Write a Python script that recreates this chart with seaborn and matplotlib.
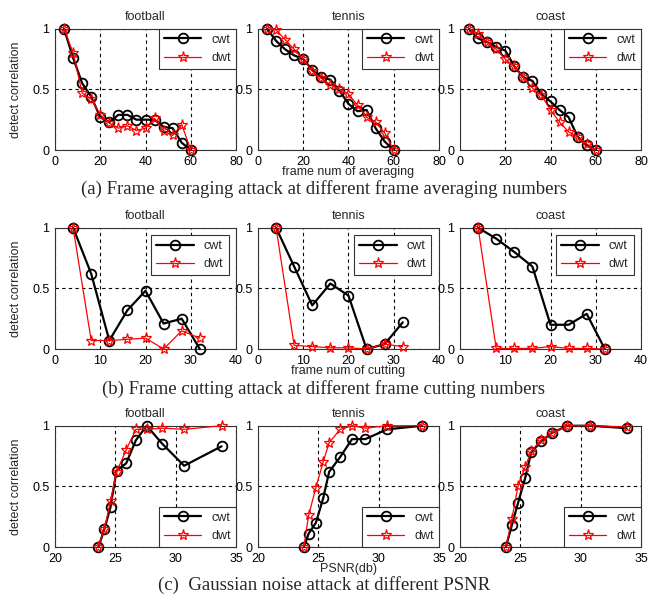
import numpy as np
import pandas as pd
import matplotlib
matplotlib.use('Agg')
import matplotlib.pyplot as plt
import seaborn as sns

# scenes (columns)
scenes = ['football', 'tennis', 'coast']

# (a) frame averaging
avg_x = [4, 8, 12, 16, 20, 24, 28, 32, 36, 40, 44, 48, 52, 56, 60]
avg_cwt = {
    'football': [1, 0.76, 0.55, 0.44, 0.27, 0.23, 0.29, 0.29, 0.25, 0.25, 0.25, 0.19, 0.18, 0.06, 0],
    'tennis': [1, 0.90, 0.83, 0.78, 0.75, 0.66, 0.60, 0.58, 0.49, 0.38, 0.32, 0.33, 0.18, 0.07, 0],
    'coast': [1, 0.92, 0.89, 0.85, 0.82, 0.69, 0.60, 0.57, 0.46, 0.40, 0.33, 0.27, 0.11, 0.04, 0],
}
avg_dwt = {
    'football': [1, 0.80, 0.47, 0.42, 0.29, 0.22, 0.18, 0.20, 0.16, 0.18, 0.26, 0.16, 0.12, 0.21, 0],
    'tennis': [1, 0.99, 0.91, 0.83, 0.75, 0.65, 0.59, 0.54, 0.50, 0.46, 0.37, 0.27, 0.23, 0.14, 0],
    'coast': [1, 0.96, 0.89, 0.83, 0.75, 0.69, 0.60, 0.51, 0.45, 0.33, 0.23, 0.15, 0.11, 0.05, 0],
}

# (b) frame cutting
cut_x = [4, 8, 12, 16, 20, 24, 28, 32]
cut_cwt = {
    'football': [1, 0.62, 0.07, 0.32, 0.48, 0.21, 0.25, 0],
    'tennis': [1, 0.68, 0.36, 0.54, 0.44, 0, 0.04, 0.22],
    'coast': [1, 0.91, 0.80, 0.68, 0.20, 0.20, 0.29, 0],
}
cut_dwt = {
    'football': [1, 0.07, 0.07, 0.08, 0.09, 0, 0.15, 0.09],
    'tennis': [1, 0.03, 0.02, 0.01, 0.01, 0, 0.04, 0.02],
    'coast': [1, 0.005, 0.005, 0.005, 0.02, 0.005, 0.005, 0],
}

# (c) gaussian noise, PSNR values per scene
psnr_x = {
    'football': [23.6, 24.1, 24.6, 25.1, 25.9, 26.7, 27.6, 28.9, 30.7, 33.8],
    'tennis': [23.8, 24.2, 24.8, 25.4, 25.9, 26.8, 27.8, 28.9, 30.7, 33.6],
    'coast': [23.8, 24.3, 24.8, 25.4, 25.9, 26.7, 27.6, 28.9, 30.8, 33.8],
}
psnr_cwt = {
    'football': [0, 0.15, 0.33, 0.63, 0.69, 0.88, 1.0, 0.85, 0.67, 0.83],
    'tennis': [0, 0.11, 0.20, 0.40, 0.62, 0.74, 0.89, 0.89, 0.97, 1.0],
    'coast': [0, 0.18, 0.36, 0.57, 0.78, 0.87, 0.94, 1.0, 1.0, 0.98],
}
psnr_dwt = {
    'football': [0, 0.15, 0.38, 0.62, 0.80, 0.97, 0.97, 0.98, 0.97, 1.0],
    'tennis': [0, 0.26, 0.49, 0.70, 0.86, 0.97, 1.0, 0.98, 1.0, 1.0],
    'coast': [0, 0.23, 0.50, 0.66, 0.79, 0.88, 0.94, 1.0, 1.0, 0.99],
}

row_xticks = [[0, 20, 40, 60, 80], [0, 10, 20, 30, 40], [20, 25, 30, 35]]
row_xlabels = ['frame num of averaging', 'frame num of cutting', 'PSNR(db)']
captions = ['(a) Frame averaging attack at different frame averaging numbers',
            '(b) Frame cutting attack at different frame cutting numbers',
            '(c)  Gaussian noise attack at different PSNR']

sns.set_style('white')
plt.rcParams['font.family'] = ['Liberation Sans', 'DejaVu Sans']

fig = plt.figure(figsize=(6.48, 5.96), dpi=100)

lefts = [0.0849, 0.3981, 0.7099]
bottoms = [0.7483, 0.4144, 0.0822]
w, h = 0.2793, 0.2035
caption_y = [1 - 189 / 596, 1 - 389 / 596, 1 - 585 / 596]

for r in range(3):
    for c, scene in enumerate(scenes):
        ax = fig.add_axes([lefts[c], bottoms[r], w, h])
        if r == 0:
            x1 = x2 = avg_x
            y1, y2 = avg_cwt[scene], avg_dwt[scene]
        elif r == 1:
            x1 = x2 = cut_x
            y1, y2 = cut_cwt[scene], cut_dwt[scene]
        else:
            x1 = x2 = psnr_x[scene]
            y1, y2 = psnr_cwt[scene], psnr_dwt[scene]

        sns.lineplot(x=x1, y=y1, ax=ax, color='black', lw=1.6, marker='o',
                     markersize=7, markerfacecolor='none', markeredgecolor='black',
                     markeredgewidth=1.3, label='cwt', clip_on=False, zorder=3)
        sns.lineplot(x=x2, y=y2, ax=ax, color='red', lw=0.9, marker='*',
                     markersize=8, markerfacecolor='none', markeredgecolor='red',
                     markeredgewidth=0.9, label='dwt', clip_on=False, zorder=4)

        xt = row_xticks[r]
        ax.set_xlim(xt[0], xt[-1])
        ax.set_ylim(0, 1)
        ax.set_xticks(xt)
        ax.set_xticklabels([str(t) for t in xt])
        ax.set_yticks([0, 0.5, 1])
        ax.set_yticklabels(['0', '0.5', '1'])
        ax.tick_params(direction='in', length=3, labelsize=9, colors='black')
        ax.tick_params(axis='y', pad=4)
        ax.tick_params(axis='x', pad=4)
        ax.grid(True, ls=(0, (3, 3)), color='black', lw=0.8)
        for sp in ax.spines.values():
            sp.set_color('#333333')
            sp.set_linewidth(0.8)
        ax.set_title(scene, fontsize=9, pad=6)
        ax.set_xlabel(row_xlabels[r] if c == 1 else '', fontsize=9, labelpad=-1)
        ax.set_ylabel('detect correlation' if c == 0 else '', fontsize=9, labelpad=7)

        if r == 0:
            leg = ax.legend(loc='upper right', borderaxespad=0, fontsize=9, handlelength=3)
        elif r == 1:
            leg = ax.legend(loc='upper right', borderaxespad=0.6, fontsize=9, handlelength=3)
        else:
            leg = ax.legend(loc='lower right', borderaxespad=0, fontsize=9, handlelength=3)
        leg.get_frame().set_edgecolor('#333333')
        leg.get_frame().set_linewidth(0.8)
        leg.get_frame().set_boxstyle('square', pad=0)
        leg.get_frame().set_alpha(1)
        leg.set_zorder(5)

    fig.text(0.5, caption_y[r], captions[r], ha='center', va='center', fontsize=13.5,
             family=['Liberation Serif', 'DejaVu Serif'])

fig.savefig('out.png', dpi=100)
